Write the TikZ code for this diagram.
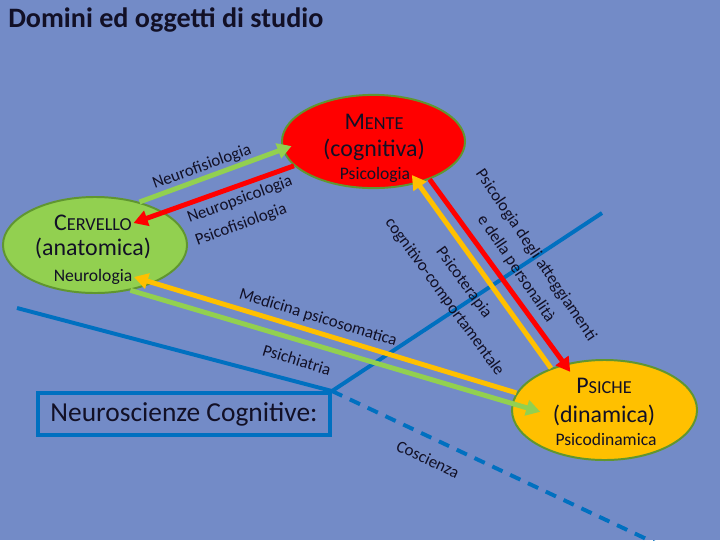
\documentclass[tikz,border=0pt]{standalone}
\usepackage{fontspec}
\setmainfont{Carlito}
\usetikzlibrary{shapes.geometric}
\usetikzlibrary{arrows.meta}

\definecolor{bgblue}{RGB}{115,139,199}
\definecolor{mentered}{RGB}{255,0,0}
\definecolor{cervgreen}{RGB}{146,208,80}
\definecolor{psicheyellow}{RGB}{255,192,0}
\definecolor{linkblue}{RGB}{0,112,192}
\definecolor{rimgreen}{RGB}{96,150,48}
\definecolor{inkdark}{RGB}{18,16,38}

% capital letter followed by smaller capitals
\newcommand{\scword}[2]{#1{\fontsize{13}{13}\selectfont #2}}

\tikzset{
  domainshape/.style={ellipse, draw=rimgreen, line width=1.4pt, inner sep=0pt},
  ellipsetitle/.style={text=inkdark, font=\fontsize{17}{17}\selectfont, inner sep=1pt},
  ellipsesub/.style={text=inkdark, font=\fontsize{12.5}{13}\selectfont, inner sep=1pt},
  linklabel/.style={text=inkdark, font=\fontsize{12}{17}\selectfont, inner sep=0pt},
  link/.style={line width=3.5pt, -{Triangle[length=10pt,width=11pt]}},
  borderline/.style={draw=linkblue, line width=2.8pt},
}

\begin{document}
\begin{tikzpicture}[x=0.025cm, y=-0.025cm]
        \fill[bgblue] (0,0) rectangle (720,540);%
        \useasboundingbox (0,0) rectangle (720,540);%

        % Title
        \node[anchor=west, inner sep=0pt, text=inkdark, font=\bfseries\fontsize{20}{20}\selectfont] (title) at (8,20) {Domini ed oggetti di studio};%

        % Drawing the box and the blue border lines
        \node[borderline, minimum width=7.3cm, minimum height=1.05cm, text=inkdark, font=\fontsize{19.5}{20}\selectfont] (neurocog) at (184,414) {Neuroscienze Cognitive:};%
        \coordinate (leftEnd) at (17,308);%
        \coordinate (riseEnd) at (602,213);%
        \coordinate (dashEnd) at (655,543);%
        \draw[borderline] (leftEnd) -- (neurocog.north east) -- (riseEnd);%
        \draw[borderline, dash pattern=on 8pt off 6pt] (neurocog.north east) -- (dashEnd);%

        % Marking the three domains by ellipses
        \node[domainshape, fill=mentered, minimum width=4.575cm, minimum height=2.33cm] (mente) at (373.5,141.5) {};%
        \node[domainshape, fill=cervgreen, minimum width=4.6cm, minimum height=2.4cm] (cervello) at (95,245) {};%
        \node[domainshape, fill=psicheyellow, minimum width=4.625cm, minimum height=2.5cm] (psiche) at (604.5,410) {};%

        % Texts of the domains
        \node[ellipsetitle] (menteTitle) at (374,122) {\scword{M}{ENTE}};%
        \node[ellipsetitle] (cognitiva) at (374,150) {(cognitiva)};%
        \node[ellipsesub] (psicologiaM) at (375,175) {Psicologia};%
        \node[ellipsetitle] (cervTitle) at (93,223) {\scword{C}{ERVELLO}};%
        \node[ellipsetitle] (anatomica) at (93,248) {(anatomica)};%
        \node[ellipsesub] (neurologia) at (93,277) {Neurologia};%
        \node[ellipsetitle] (psicheTitle) at (604,386) {\scword{P}{SICHE}};%
        \node[ellipsetitle] (dinamica) at (604,415) {(dinamica)};%
        \node[ellipsesub] (psicodinamica) at (606,439) {Psicodinamica};%

        % Drawing the arrows between the domains
        \draw[link, cervgreen, shorten >=-7pt] (cervello.44) -- (mente.185);%
        \draw[link, mentered] (mente.197) -- (cervTitle.east);%
        \draw[link, psicheyellow] (psiche.169) -- (neurologia.east);%
        \draw[link, cervgreen, shorten >=8pt] (cervello.308) -- (dinamica.west);%
        \draw[link, psicheyellow] (psiche.142) -- (psicologiaM.east);%
        \draw[link, mentered, shorten >=-7pt] (mente.326) -- (psiche.131);%

        % Labels of the arrows
        \node[linklabel, rotate=20] (neurofisio) at (202,167) {Neurofisiologia};%
        \node[linklabel, rotate=20, align=left] (neuropsico) at (244,211) {Neuropsicologia\\Psicofisiologia};%
        \node[linklabel, rotate=-17] (psicosomatica) at (318,318) {Medicina psicosomatica};%
        \node[linklabel, rotate=-17] (psichiatria) at (297,360) {Psichiatria};%
        \node[linklabel, rotate=-56, align=center] (atteggiamenti) at (526,262) {Psicologia degli atteggiamenti\\e della personalità};%
        \node[linklabel, rotate=-54, align=center] (psicoterapia) at (454,290) {Psicoterapia\\cognitivo-comportamentale};%
        \node[linklabel, rotate=-25] (coscienza) at (428,459) {Coscienza};%
\end{tikzpicture}
\end{document}
